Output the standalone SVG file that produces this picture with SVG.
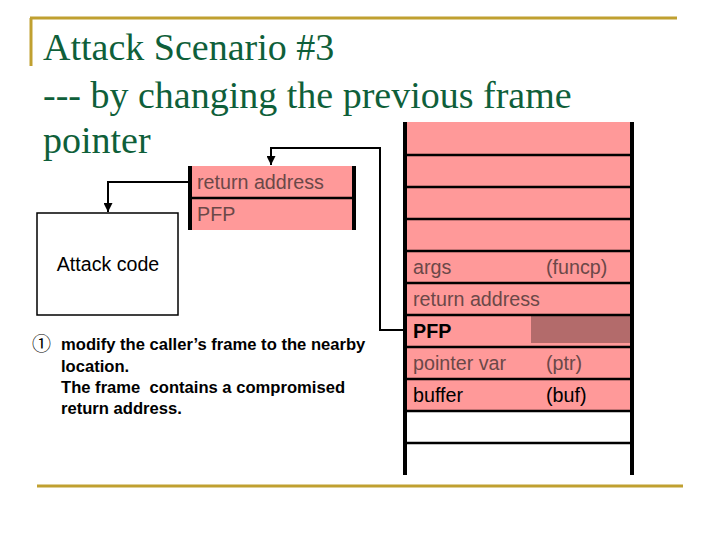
<svg xmlns="http://www.w3.org/2000/svg" width="720" height="540" viewBox="0 0 720 540">
<style>
.title{font-family:"Liberation Serif","Times New Roman",serif;font-size:38px;fill:#0f5f3a}
.cell{font-family:"Liberation Sans",Arial,sans-serif;font-size:19.7px;fill:#6b4848}
.blk{fill:#000}
.bold{font-weight:bold}
.note{font-family:"Liberation Sans",Arial,sans-serif;font-size:16.6px;font-weight:bold;fill:#000}
.row{stroke:#000;stroke-width:2.5}
.side{stroke:#000;stroke-width:4}
.conn{fill:none;stroke:#000;stroke-width:2}
</style>
<defs>
<marker id="ah" viewBox="0 0 10 10" refX="10" refY="5" markerWidth="4.5" markerHeight="4.5" orient="auto" markerUnits="strokeWidth">
<path d="M0,0 L10,5 L0,10 z" fill="#000"/>
</marker>
</defs>
<g id="frame">
<line x1="30" y1="18" x2="677" y2="18" stroke="#c0a030" stroke-width="3"/>
<line x1="31" y1="18" x2="31" y2="66" stroke="#c0a030" stroke-width="3"/>
<line x1="37" y1="486" x2="683" y2="486" stroke="#c0a030" stroke-width="3"/>
</g>
<g id="title">
<text class="title" x="43" y="60">Attack Scenario #3</text>
<text class="title" x="43" y="108">--- by changing the previous frame</text>
<text class="title" x="43" y="153">pointer</text>
</g>
<g id="small-stack">
<rect x="190" y="166" width="164" height="64" fill="#ff9999"/>
<line class="row" x1="190" y1="198" x2="354" y2="198"/>
<line class="side" x1="190" y1="166" x2="190" y2="230"/>
<line class="side" x1="354" y1="166" x2="354" y2="230"/>
<text class="cell" x="197" y="189">return address</text>
<text class="cell" x="197" y="221">PFP</text>
</g>
<g id="attack-code">
<rect x="37" y="213" width="141" height="102" fill="#fff" stroke="#000" stroke-width="1.5"/>
<text x="108" y="271" text-anchor="middle" font-family="Liberation Sans,Arial,sans-serif" font-size="19.6" fill="#000">Attack code</text>
</g>
<g id="big-stack">
<rect x="405" y="122" width="227" height="289" fill="#ff9999"/>
<rect x="531" y="315" width="101" height="28" fill="#b36b6b"/>
<line class="row" x1="405" y1="155" x2="632" y2="155"/>
<line class="row" x1="405" y1="187" x2="632" y2="187"/>
<line class="row" x1="405" y1="219" x2="632" y2="219"/>
<line class="row" x1="405" y1="251" x2="632" y2="251"/>
<line class="row" x1="405" y1="283" x2="632" y2="283"/>
<line class="row" x1="405" y1="315" x2="632" y2="315"/>
<line class="row" x1="405" y1="347" x2="632" y2="347"/>
<line class="row" x1="405" y1="379" x2="632" y2="379"/>
<line class="row" x1="405" y1="411" x2="632" y2="411"/>
<line class="row" x1="405" y1="443" x2="632" y2="443"/>
<line class="side" x1="405" y1="122" x2="405" y2="475"/>
<line class="side" x1="632" y1="122" x2="632" y2="475"/>
<text class="cell" x="413" y="274">args</text>
<text class="cell" x="546" y="274">(funcp)</text>
<text class="cell" x="413" y="306">return address</text>
<text class="cell blk bold" x="413" y="338">PFP</text>
<text class="cell" x="413" y="370">pointer var</text>
<text class="cell" x="546" y="370">(ptr)</text>
<text class="cell blk" x="413" y="402">buffer</text>
<text class="cell blk" x="546" y="402">(buf)</text>
</g>
<g id="connectors">
<path class="conn" d="M190,182 H108 V212" marker-end="url(#ah)"/>
<path class="conn" d="M405,330 H380 V148 H271 V165" marker-end="url(#ah)"/>
</g>
<g id="note">
<text x="32" y="351" font-family="Noto Sans CJK JP,sans-serif" font-size="19" fill="#000">①</text>
<text class="note" x="61" y="350">modify the caller’s frame to the nearby</text>
<text class="note" x="61" y="372">location.</text>
<text class="note" x="61" y="393" xml:space="preserve">The frame  contains a compromised</text>
<text class="note" x="61" y="414">return address.</text>
</g>
</svg>
